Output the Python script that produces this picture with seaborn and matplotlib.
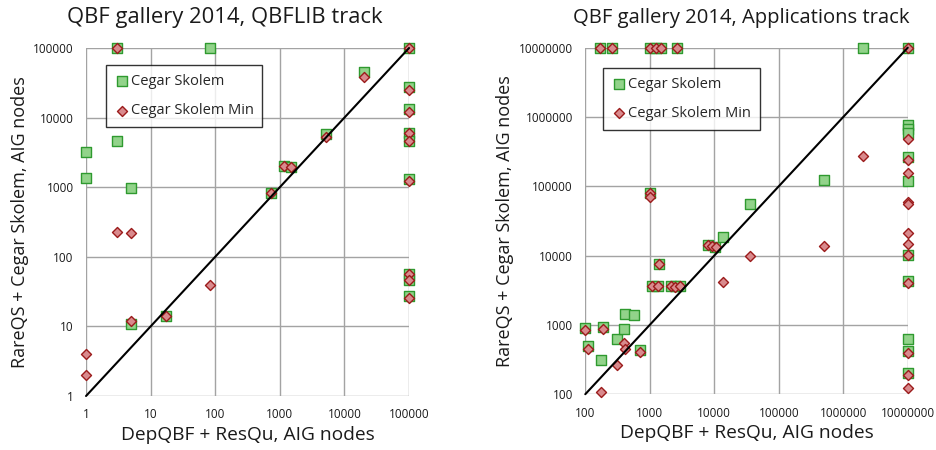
import numpy as np
import pandas as pd
import matplotlib
matplotlib.use("Agg")
import matplotlib.pyplot as plt
import seaborn as sns

# --- DATA: QBFLIB track (left) ---
qbflib_sk_x = [1, 1, 3, 3, 5, 5, 17, 84, 738, 1175, 1480, 5130, 20000,
               100000, 100000, 100000, 100000, 100000, 100000, 100000, 100000, 100000]
qbflib_sk_y = [3170, 1370, 100000, 4570, 980, 10.8, 14, 100000, 817, 2040, 1980, 5800, 45700,
               100000, 27800, 13400, 6070, 4650, 1310, 56, 46, 27.3]
qbflib_min_x = [1, 1, 3, 3, 5, 5, 17, 84, 738, 1175, 1480, 5130, 20000,
                100000, 100000, 100000, 100000, 100000, 100000, 100000, 100000, 100000]
qbflib_min_y = [4, 2, 100000, 227, 217, 12, 14, 39, 817, 2000, 1950, 5260, 38700,
                100000, 24900, 12200, 6070, 4650, 1230, 56, 46, 25.9]

# --- DATA: Applications track (right) ---
app_sk_x = [167, 262, 1000, 1230, 1520, 2610, 2040000, 10000000,
            1000,
            100, 111, 186, 173, 313, 398, 417, 562, 705,
            1400, 1070, 1360, 2100, 2450, 2930,
            8070, 10300, 13800,
            36100, 500000,
            10000000, 10000000, 10000000, 10000000, 10000000,
            10000000, 10000000, 10000000, 10000000, 10000000]
app_sk_y = [1e7, 1e7, 1e7, 1e7, 1e7, 1e7, 1e7, 1e7,
            80000,
            914, 498, 944, 309, 630, 885, 1455, 1410, 436,
            7600, 3700, 3700, 3700, 3700, 3700,
            14200, 13200, 18400,
            56300, 123000,
            769000, 667000, 596000, 268000, 120000,
            10200, 4310, 622, 422, 201]
app_min_x = [167, 262, 1000, 1230, 1520, 2610, 10000000,
             1000, 1000,
             100, 111, 186, 173, 313, 398, 417, 705,
             1400, 1070, 1360, 2100, 2450, 2930,
             8070, 9100, 10600,
             13500, 35700, 500000, 2040000,
             10000000, 10000000, 10000000, 10000000, 10000000, 10000000,
             10000000, 10000000, 10000000, 10000000, 10000000, 10000000]
app_min_y = [1e7, 1e7, 1e7, 1e7, 1e7, 1e7, 1e7,
             80000, 71000,
             848, 445, 875, 109, 262, 545, 445, 407,
             7600, 3700, 3600, 3700, 3500, 3700,
             14000, 13800, 13500,
             4220, 9910, 13800, 270000,
             479000, 240000, 154000, 58900, 56000, 21000,
             14600, 10200, 3990, 390, 190, 124]

qbflib_ticks = [1, 10, 100, 1000, 10000, 100000]
app_ticks = [100, 1000, 10000, 100000, 1000000, 10000000]

titles = ["QBF gallery 2014, QBFLIB track", "QBF gallery 2014, Applications track"]
x_label = "DepQBF + ResQu, AIG nodes"
y_label = "RareQS + Cegar Skolem, AIG nodes"
series_names = ["Cegar Skolem", "Cegar Skolem Min"]

# --- STYLE ---
sns.set_style("white")
plt.rcParams['font.family'] = ['Open Sans', 'DejaVu Sans']

GREEN_FILL = "#92d38a"
GREEN_EDGE = "#2f9a2f"
RED_FILL = "#d98a8d"
RED_EDGE = "#9b1b1b"
GRID = "#a3a3a3"

fig = plt.figure(figsize=(9.36, 4.5), dpi=100)
ax_l = fig.add_axes([0.0919, 0.12, 0.3451, 0.7733])
ax_r = fig.add_axes([0.6253, 0.124, 0.3445, 0.770])


def draw_panel(ax, sk_x, sk_y, min_x, min_y, ticks, title, title_x, title_size, leg_anchor):
    sk = pd.DataFrame({"x": sk_x, "y": sk_y})
    mn = pd.DataFrame({"x": min_x, "y": min_y})
    sns.scatterplot(data=sk, x="x", y="y", ax=ax, marker="s", s=60,
                    color=GREEN_FILL, edgecolor=GREEN_EDGE, linewidth=1.0,
                    label=series_names[0], clip_on=False, zorder=3)
    sns.scatterplot(data=mn, x="x", y="y", ax=ax, marker="D", s=26,
                    color=RED_FILL, edgecolor=RED_EDGE, linewidth=1.0,
                    label=series_names[1], clip_on=False, zorder=4)
    # y = x reference line
    ax.plot([ticks[0], ticks[-1]], [ticks[0], ticks[-1]], color="black",
            linewidth=1.5, zorder=5, clip_on=False)
    ax.set_xscale("log")
    ax.set_yscale("log")
    ax.set_xlim(ticks[0], ticks[-1])
    ax.set_ylim(ticks[0], ticks[-1])
    ax.set_xticks(ticks)
    ax.set_yticks(ticks)
    ax.set_xticklabels([str(t) for t in ticks])
    ax.set_yticklabels([str(t) for t in ticks])
    ax.minorticks_off()
    ax.tick_params(axis="both", length=0, labelsize=8.5, colors="#1a1a1a")
    ax.tick_params(axis="x", pad=9)
    ax.tick_params(axis="y", pad=9)
    ax.grid(True, which="major", color=GRID, linewidth=1.0, zorder=0)
    ax.set_axisbelow(True)
    for sp in ax.spines.values():
        sp.set_visible(False)
    ax.set_xlabel(x_label, fontsize=13.8, labelpad=3, color="#1a1a1a")
    ax.set_ylabel(y_label, fontsize=13.0, labelpad=3, color="#1a1a1a")
    ax.set_title(title, fontsize=title_size, pad=18, x=title_x, color="#1a1a1a")
    leg = ax.legend(loc="upper left", bbox_to_anchor=leg_anchor, frameon=True,
                    fancybox=False, edgecolor="black", fontsize=10.5,
                    borderpad=0.6, labelspacing=1.0, handletextpad=0.1,
                    handlelength=1.0, borderaxespad=0)
    leg.get_frame().set_linewidth(1.0)


draw_panel(ax_l, qbflib_sk_x, qbflib_sk_y, qbflib_min_x, qbflib_min_y,
           qbflib_ticks, titles[0], 0.43, 15.8, (0.062, 0.951))
draw_panel(ax_r, app_sk_x, app_sk_y, app_min_x, app_min_y,
           app_ticks, titles[1], 0.485, 14.6, (0.056, 0.942))

fig.savefig("out.png", dpi=100)
